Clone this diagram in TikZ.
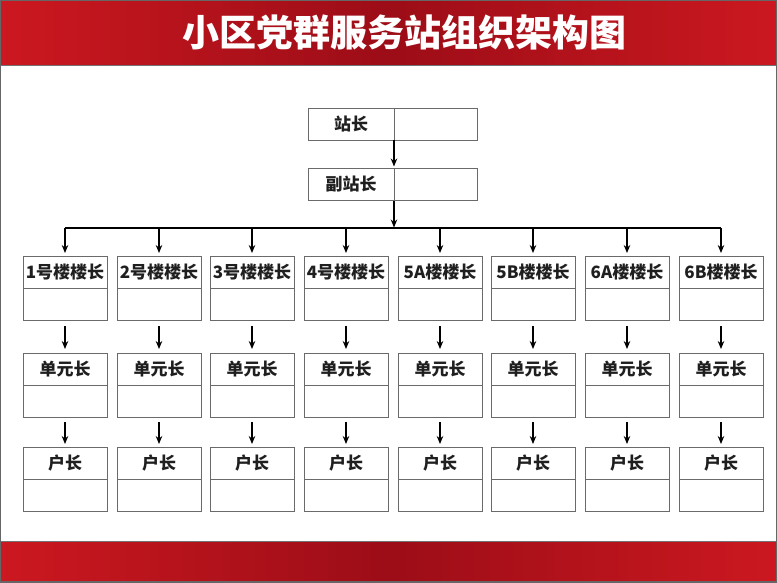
\documentclass[tikz,border=0pt]{standalone}
\usepackage{fontspec}
\newfontfamily\cjk{Noto Sans CJK SC}
\usetikzlibrary{positioning,arrows.meta}

\definecolor{bannerred}{HTML}{CC1820}
\definecolor{bannerdark}{HTML}{9C0D17}
\definecolor{boxgray}{HTML}{6A6A6A}

\tikzset{
  cell/.style={draw=boxgray, line width=0.9pt, minimum width=84pt, minimum height=32pt,
    inner sep=0pt, outer sep=0pt, text=black!88,
    font=\cjk\bfseries\fontsize{17}{18}\selectfont},
  link/.style={line width=1.6pt, -{Stealth[length=8pt,width=6.5pt]}}
}

\begin{document}
\begin{tikzpicture}[x=1pt, y=-1pt]
  \useasboundingbox (0,0) rectangle (777,582);
  \fill[white] (0,0) rectangle (777,582);

  % Draw the red banners
  \shade[left color=bannerred, right color=bannerred, middle color=bannerdark] (0,0) rectangle (777,65);
  \shade[left color=bannerred, right color=bannerred, middle color=bannerdark] (0,541) rectangle (777,582);
  \draw[black!55] (0,65) -- (777,65);
  \draw[black!55] (0,541) -- (777,541);
  \node[text=white, font=\cjk\bfseries\fontsize{37}{40}\selectfont] (title) at (404,32) {小区党群服务站组织架构图};

  % Station head and deputy
  \node[cell, minimum width=86pt] (zz) at (351,124) {站长};
  \node[cell, minimum width=83pt, right=0pt of zz] (zzv) {};
  \node[cell, minimum width=86pt] (fz) at (351,184.5) {副站长};
  \node[cell, minimum width=83pt, right=0pt of fz] (fzv) {};
  \draw[link, shorten >=2pt] (zz.south east) -- (fz.north east);
  \coordinate (bar) at ([yshift=-27pt]fz.south east);
  \draw[link] (fz.south east) -- (bar);

  % Draw the eight columns
  \foreach \i/\name in {1/1号楼楼长, 2/2号楼楼长, 3/3号楼楼长, 4/4号楼楼长,
                        5/5A楼楼长, 6/5B楼楼长, 7/6A楼楼长, 8/6B楼楼长} {
    \pgfmathsetmacro{\cx}{round(65+93.65*(\i-1))}
    \coordinate (d\i) at (\cx,228);
    \node[cell] (lz\i) at (\cx,272) {\name};
    \node[cell, below=0pt of lz\i] (lzv\i) {};
    \node[cell] (dy\i) at (\cx,369) {单元长};
    \node[cell, below=0pt of dy\i] (dyv\i) {};
    \node[cell] (hz\i) at (\cx,463) {户长};
    \node[cell, below=0pt of hz\i] (hzv\i) {};
    \draw[link, shorten >=3pt] (d\i) -- (lz\i);
    \draw[link, shorten <=6pt, shorten >=4pt] (lzv\i) -- (dy\i);
    \draw[link, shorten <=5pt, shorten >=3pt] (dyv\i) -- (hz\i);
  }
  \draw[line width=1.6pt] (d1) -- (d8);

  % Outer frame
  \draw[black!60, line width=1.2pt] (0,0) rectangle (777,582);
\end{tikzpicture}
\end{document}
